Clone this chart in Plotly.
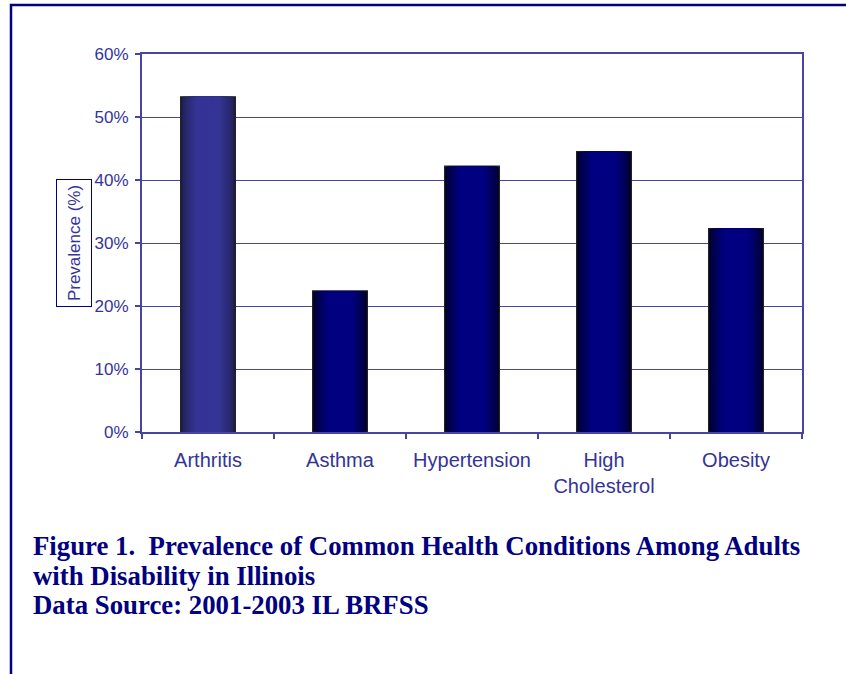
import plotly.graph_objects as go

# ---- data ----
categories = ["Arthritis", "Asthma", "Hypertension", "High<br>Cholesterol", "Obesity"]
prevalence = [0.532, 0.224, 0.422, 0.445, 0.323]
y_ticks = [0.0, 0.1, 0.2, 0.3, 0.4, 0.5, 0.6]
y_tick_labels = ["0%", "10%", "20%", "30%", "40%", "50%", "60%"]
title_lines = [
    "Figure 1.&nbsp; Prevalence of Common Health Conditions Among Adults",
    "with Disability in Illinois",
    "Data Source: 2001-2003 IL BRFSS",
]
y_title = "Prevalence (%)"

# ---- layout geometry (pixels) ----
W, H = 846, 674
L, R, T, B = 142, 802, 54, 432


def px_x(p):
    return (p - L) / (R - L)


def px_y(p):
    return (B - p) / (B - T)


AXIS_COL = "#4646a2"
TEXT_COL = "#343498"
NAVY = "#000080"

# gradient colours per bar (edge, centre)
edge_cols = [(30, 30, 78)] + [(0, 0, 45)] * 4
centre_cols = [(52, 52, 150)] + [(0, 0, 128)] * 4

fig = go.Figure()
N = 12
bar_w = 0.415
for k in range(N):
    t = k / (N - 1)
    f = min(1.0, (t / 0.6) ** 0.7) if t > 0 else 0.0
    cols = []
    for e, c in zip(edge_cols, centre_cols):
        rgb = tuple(int(round(e[i] + (c[i] - e[i]) * f)) for i in range(3))
        cols.append("rgb(%d,%d,%d)" % rgb)
    w = bar_w * (1 - k / N)
    fig.add_trace(go.Bar(
        x=categories, y=prevalence, width=w,
        marker=dict(color=cols,
                    line=dict(color="#222222" if k == 0 else "rgba(0,0,0,0)",
                              width=1.2 if k == 0 else 0)),
        hoverinfo="skip" if k else None,
        showlegend=False,
    ))

fig.update_layout(
    width=W, height=H,
    margin=dict(l=L, r=W - R, t=T, b=H - B, autoexpand=False),
    barmode="overlay",
    paper_bgcolor="white", plot_bgcolor="white",
    showlegend=False,
    font=dict(family="Liberation Sans, Arial, sans-serif", color=TEXT_COL),
)

fig.update_xaxes(
    type="category",
    showline=True, linecolor=AXIS_COL, linewidth=2, mirror=True,
    ticks="outside", tickson="boundaries", ticklen=5, tickcolor=AXIS_COL, tickwidth=2,
    tickfont=dict(size=20, color=TEXT_COL),
    showgrid=False,
    ticklabelstandoff=9,
)
fig.update_yaxes(
    range=[0, 0.6],
    tickvals=y_ticks, ticktext=y_tick_labels,
    showline=True, linecolor=AXIS_COL, linewidth=2, mirror=True,
    ticks="outside", ticklen=5, tickcolor=AXIS_COL, tickwidth=1.5,
    tickfont=dict(size=17, color=TEXT_COL),
    showgrid=True, gridcolor=AXIS_COL, gridwidth=1,
    zeroline=False,
    ticklabelstandoff=3,
)

# y-axis title in a box
fig.add_annotation(
    text=y_title, textangle=-90,
    x=px_x(74), y=px_y(243), xref="paper", yref="paper",
    xanchor="center", yanchor="middle", showarrow=False,
    width=116, height=24,
    font=dict(size=17, color=TEXT_COL, family="Liberation Sans, Arial, sans-serif"),
    bordercolor=NAVY, borderwidth=1, borderpad=5, bgcolor="white",
)

# caption lines
for line, yc in zip(title_lines, [545.5, 575.5, 604.5]):
    fig.add_annotation(
        text="<b>%s</b>" % line,
        x=px_x(30.5), y=px_y(yc), xref="paper", yref="paper",
        xanchor="left", yanchor="middle", showarrow=False,
        font=dict(size=26.8, color=NAVY, family="Liberation Serif, Times New Roman, serif"),
    )

# outer frame
fig.add_shape(
    type="rect", xref="paper", yref="paper",
    x0=px_x(11), x1=px_x(900), y0=px_y(5), y1=px_y(740),
    line=dict(color=NAVY, width=2.5), fillcolor="rgba(0,0,0,0)", layer="above",
)

fig.write_html("out.html", config={"displayModeBar": False},
               post_script="document.body.style.margin='0';")
